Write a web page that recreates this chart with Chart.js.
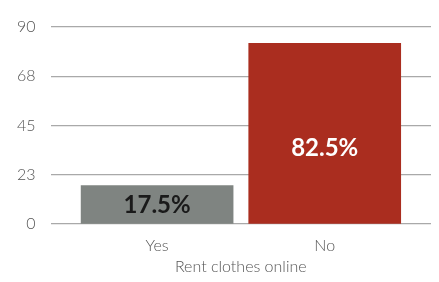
<!doctype html>
<html>
<head>
    <meta charset="UTF-8">
    <script src="https://cdn.jsdelivr.net/npm/chart.js"></script>
    <style>
        html, body { margin: 0; padding: 0; background: #fff; }
        #wrap { width: 439px; height: 282px; }
    </style>
</head>
<body>
<div id="wrap"><canvas id="rent_graph"></canvas></div>

<script>
    // chart data
    const categories = ['Yes', 'No'];
    const shares = [17.5, 82.5];
    const barColors = ['#7f8481', '#aa2d1f'];
    const labelColors = ['#1a1a1a', '#ffffff'];
    const yTicks = [0, 22.5, 45, 67.5, 90];

    // value labels inside the bars
    const barLabels = {
        id: 'barLabels',
        afterDatasetsDraw(chart, args, opts) {
            const ctx = chart.ctx;
            const bars = chart.getDatasetMeta(0).data;
            ctx.save();
            ctx.font = 'bold 24px Lato';
            ctx.textAlign = 'center';
            ctx.textBaseline = 'middle';
            bars.forEach((bar, i) => {
                const y = bar.base - opts.lift[i] * (bar.base - bar.y);
                ctx.fillStyle = labelColors[i];
                ctx.fillText(shares[i].toFixed(1) + '%', bar.x, y);
            });
            ctx.restore();
        }
    };

    new Chart(document.getElementById('rent_graph'), {
        type: 'bar',
        data: {
            datasets: [{
                data: shares.map((v, i) => ({ x: i, y: v })),
                backgroundColor: barColors,
                barThickness: 152
            }]
        },
        options: {
            responsive: true,
            maintainAspectRatio: false,
            animation: false,
            layout: { padding: { top: 27, right: 8, left: 0, bottom: 6 } },
            plugins: {
                legend: { display: false },
                tooltip: { enabled: false },
                barLabels: { lift: [0.49, 0.42] }
            },
            scales: {
                x: {
                    type: 'linear',
                    offset: false,
                    min: -0.636,
                    max: 1.634,
                    afterBuildTicks: (axis) => { axis.ticks = categories.map((c, i) => ({ value: i })); },
                    afterFit: (axis) => { axis.height = 52; },
                    grid: { display: false, offset: false },
                    border: { display: false },
                    ticks: {
                        padding: 4,
                        color: '#555',
                        font: { family: 'Lato', size: 16, weight: 300 },
                        callback: (v) => categories[v]
                    },
                    title: {
                        display: true,
                        text: 'Rent clothes online',
                        color: '#555',
                        padding: { top: 1, bottom: 0 },
                        font: { family: 'Lato', size: 16, weight: 300 }
                    }
                },
                y: {
                    min: 0,
                    max: 90,
                    afterBuildTicks: (axis) => { axis.ticks = yTicks.map(v => ({ value: v })); },
                    afterFit: (axis) => { axis.width = 50.5; },
                    grid: { color: '#a9a9a9', lineWidth: 1.2, drawTicks: false },
                    border: { display: false },
                    ticks: {
                        padding: 15,
                        color: '#555',
                        font: { family: 'Lato', size: 16, weight: 300 },
                        callback: (v) => Math.round(v)
                    }
                }
            }
        },
        plugins: [barLabels]
    });
</script>
</body>
</html>
